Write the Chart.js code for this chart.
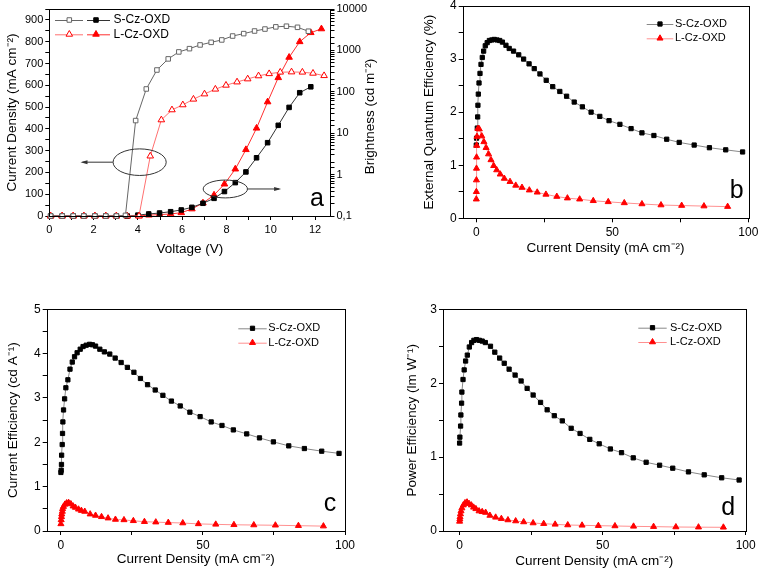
<!DOCTYPE html>
<html>
<head>
<meta charset="utf-8">
<script src="https://cdn.jsdelivr.net/npm/chart.js@4.4.1/dist/chart.umd.min.js"></script>
<style>
  body { margin: 0; background: #fff; width: 759px; height: 570px; position: relative; overflow: hidden; }
  canvas { position: absolute; }
</style>
</head>
<body>
<canvas id="chartA" width="380" height="257" style="left:0;top:0"></canvas>
<canvas id="chartB" width="379" height="257" style="left:380px;top:0"></canvas>
<canvas id="chartC" width="380" height="280" style="left:0;top:290px"></canvas>
<canvas id="chartD" width="379" height="280" style="left:380px;top:290px"></canvas>
<script>
// ---- panel a : J-V-L ----
const voltsSJ = [0.06,0.58,1.08,1.56,2.06,2.55,3.03,3.44,3.90,4.38,4.86,5.37,5.85,6.33,6.81,7.31,7.79,8.28,8.78,9.27,9.74,10.23,10.71,11.21,11.70];
const curSJ   = [0,0,0,0,0,0,0,3,438,583,670,721,753,768,785,797,808,826,837,849,858,868,871,866,848];
const voltsSL = [0.06,0.58,1.08,1.56,2.06,2.55,3.03,3.52,4.0,4.49,4.98,5.48,5.96,6.44,6.94,7.44,7.91,8.40,8.88,9.36,9.86,10.34,10.83,11.31,11.81];
const brightS = [0.1,0.1,0.1,0.1,0.1,0.1,0.1,0.1,0.105,0.112,0.118,0.127,0.14,0.162,0.203,0.267,0.39,0.64,1.16,2.55,5.9,15.5,42,95,132];
const voltsLJ = [0.06,0.58,1.08,1.56,2.06,2.55,3.03,3.52,4.05,4.56,5.06,5.54,6.03,6.51,7.01,7.50,7.98,8.48,8.96,9.45,9.93,10.43,10.94,11.43,11.91,12.41];
const curLJ   = [0,0,0,0,0,0,0,0,0,275,441,487,510,536,560,582,600,615,629,643,653,660,661,660,655,644];
const voltsLL = [0.06,0.58,1.08,1.56,2.06,2.55,3.03,3.52,4.05,4.5,4.98,5.48,5.96,6.44,6.94,7.44,7.91,8.40,8.88,9.36,9.86,10.34,10.83,11.31,11.81,12.29];
const brightL = [0.1,0.1,0.1,0.1,0.1,0.1,0.1,0.1,0.1,0.105,0.108,0.112,0.12,0.148,0.206,0.32,0.59,1.36,4.0,13.2,57,219,680,1620,2680,3310];

// ---- panel b : EQE ----
const cdS_b = [0,0.1,0.37,0.5,0.6,0.74,1.0,1.36,1.73,2.2,2.7,3.3,4.0,4.8,5.7,6.6,7.6,8.6,9.6,10.9,12.1,13.7,15.6,17.4,19.4,21.3,23.4,25.7,28.1,30.7,33.2,36.0,39.0,42.2,45.4,48.8,52.8,56.9,60.9,65.3,70.0,74.6,80.1,85.7,91.7,97.9];
const eqeS  = [1.38,1.51,1.70,1.91,2.13,2.34,2.55,2.73,2.90,3.03,3.15,3.25,3.31,3.35,3.36,3.37,3.36,3.35,3.32,3.26,3.20,3.15,3.08,3.00,2.91,2.82,2.72,2.60,2.48,2.39,2.30,2.19,2.10,2.00,1.92,1.84,1.77,1.69,1.61,1.56,1.49,1.43,1.38,1.33,1.29,1.25];
const cdL_b = [0,0.02,0.04,0.07,0.1,0.15,0.25,0.6,1.1,2.0,2.8,3.6,4.5,5.4,6.4,7.5,8.8,10.3,12.4,14.5,16.8,19.5,22.4,25.6,29.6,33.5,38.0,43.0,48.5,54.4,60.9,67.9,75.5,83.7,92.4];
const eqeL  = [0.36,0.50,0.72,0.94,1.15,1.37,1.54,1.69,1.68,1.55,1.44,1.33,1.21,1.10,0.99,0.91,0.83,0.75,0.69,0.62,0.58,0.53,0.49,0.45,0.41,0.38,0.36,0.33,0.31,0.29,0.27,0.25,0.24,0.23,0.22];

// ---- panel c : current efficiency ----
const cdS_c = [0,0.1,0.2,0.25,0.46,0.57,0.7,0.93,1.3,1.75,2.46,3.2,4.0,4.8,5.7,6.8,7.8,8.9,10.1,11.1,12.2,13.7,15.3,17.2,19.1,21.2,23.4,25.7,28.0,30.5,33.2,35.9,38.9,42.0,45.4,49.0,52.9,56.7,60.7,65.4,69.9,74.8,80.2,85.7,91.8,97.9];
const ceS   = [1.32,1.37,1.50,1.71,1.95,2.20,2.46,2.73,2.98,3.23,3.41,3.65,3.81,3.93,4.02,4.10,4.16,4.19,4.21,4.20,4.17,4.10,4.04,3.99,3.90,3.80,3.69,3.58,3.44,3.30,3.18,3.06,2.93,2.82,2.68,2.58,2.46,2.38,2.28,2.19,2.10,2.01,1.92,1.86,1.80,1.75];
const cdL_c = [0,0.1,0.2,0.3,0.5,0.6,0.9,1.4,2.0,2.7,3.5,4.3,5.1,6.2,7.2,8.4,10.3,12.2,14.3,16.6,19.2,22.2,25.5,29.4,33.4,37.8,42.9,48.4,54.5,60.9,67.9,75.5,83.6,92.4];
const ceL   = [0.16,0.25,0.32,0.38,0.44,0.50,0.55,0.60,0.63,0.64,0.61,0.56,0.53,0.49,0.46,0.44,0.38,0.35,0.32,0.29,0.26,0.25,0.23,0.21,0.20,0.19,0.18,0.16,0.15,0.14,0.135,0.13,0.12,0.11];

// ---- panel d : power efficiency ----
const cdS_d = [0,0.1,0.35,0.45,0.7,0.8,1.2,1.6,2.1,2.7,3.4,4.2,5.0,5.9,6.9,7.9,9.0,10.8,12.3,14.0,15.6,17.3,19.4,21.5,23.6,25.7,28.3,30.6,33.1,35.9,39.0,42.1,45.5,48.8,52.7,56.6,60.7,65.2,69.9,74.5,80.0,85.5,91.6,97.7];
const peS   = [1.19,1.27,1.42,1.57,1.73,1.88,2.05,2.18,2.30,2.38,2.49,2.55,2.58,2.59,2.58,2.57,2.55,2.50,2.42,2.34,2.27,2.19,2.11,2.03,1.93,1.84,1.74,1.64,1.56,1.49,1.39,1.32,1.24,1.18,1.11,1.06,0.99,0.93,0.89,0.85,0.80,0.76,0.72,0.69];
const cdL_d = [0,0.1,0.15,0.3,0.5,0.8,1.3,1.9,2.6,3.3,4.1,4.9,5.7,6.8,7.9,9.1,10.6,12.6,14.6,16.9,19.6,22.4,25.7,29.4,33.4,37.8,42.8,48.5,54.3,60.8,67.8,75.6,83.5,92.2];
const peL   = [0.13,0.16,0.19,0.23,0.27,0.31,0.35,0.38,0.39,0.37,0.35,0.32,0.30,0.27,0.26,0.25,0.21,0.185,0.167,0.149,0.135,0.122,0.108,0.099,0.09,0.081,0.077,0.072,0.068,0.063,0.059,0.054,0.052,0.05];

const FONT = '"Liberation Sans", Arial, Helvetica, sans-serif';
Chart.defaults.font.family = FONT;
Chart.defaults.color = '#000';
Chart.defaults.animation = false;

const RED = '#ff0000';

function pts(xs, ys) {
  return xs.map((x, i) => ({ x: x, y: ys[i] }));
}

function isMult(v, step) {
  return Math.abs(v / step - Math.round(v / step)) < 1e-6;
}

// plain linear axis, Origin look: outward ticks, minor ticks without labels
function linAxis(o) {
  const horiz = o.pos === 'bottom';
  return {
    type: 'linear',
    position: o.pos,
    min: o.min,
    max: o.max,
    border: { display: false },
    grid: { drawOnChartArea: false, drawTicks: true, tickLength: 4, tickColor: '#000', tickWidth: 1 },
    ticks: {
      stepSize: o.step,
      includeBounds: false,
      autoSkip: false,
      maxRotation: 0,
      padding: horiz ? 3 : 2,
      font: { size: o.fs },
      callback: v => (isMult(v, o.major) ? String(Math.round(v)) : '')
    },
    afterBuildTicks: s => { s.ticks = s.ticks.filter(t => isMult(t.value, o.step)); },
    title: {
      display: !!o.title,
      text: o.title,
      font: { size: 13.5 },
      padding: horiz ? { top: 0, bottom: o.tpad } : { top: o.tpad, bottom: 0 }
    },
    afterFit: s => {
      if (horiz) { s.height = o.size; s.paddingLeft = 0; s.paddingRight = 0; }
      else { s.width = o.size; s.paddingTop = 0; s.paddingBottom = 0; }
    }
  };
}

// frame, legend, panel letter, and the extra drawings of panel a
const decor = {
  id: 'decor',
  afterDraw(chart, args, o) {
    const ctx = chart.ctx;
    const a = chart.chartArea;
    ctx.save();
    ctx.strokeStyle = '#000';
    ctx.lineWidth = 1;
    ctx.strokeRect(Math.round(a.left) + 0.5, Math.round(a.top) + 0.5,
      Math.round(a.right - a.left), Math.round(a.bottom - a.top));

    ctx.font = (o.legendSize || 12) + 'px ' + FONT;
    ctx.textBaseline = 'middle';
    ctx.textAlign = 'left';
    (o.legend || []).forEach(row => {
      row.items.forEach(it => {
        ctx.strokeStyle = it.line;
        ctx.lineWidth = 1;
        ctx.beginPath();
        ctx.moveTo(it.x0, row.y + 0.5);
        ctx.lineTo(it.x1, row.y + 0.5);
        ctx.stroke();
        ctx.fillStyle = it.fill;
        ctx.strokeStyle = it.stroke;
        Chart.helpers.drawPoint(ctx, { pointStyle: it.style, radius: it.r, borderWidth: 1, rotation: 0 }, it.mx, row.y);
      });
      ctx.fillStyle = '#000';
      ctx.fillText(row.text, row.tx, row.y);
    });

    if (o.letter) {
      ctx.font = '25px ' + FONT;
      ctx.textAlign = 'center';
      ctx.textBaseline = 'alphabetic';
      ctx.fillStyle = '#000';
      ctx.fillText(o.letter.text, o.letter.x, o.letter.y);
    }

    (o.ellipses || []).forEach(e => {
      const xs = chart.scales.x, ys = chart.scales.y;
      const cx = xs.getPixelForValue(e.x), cy = ys.getPixelForValue(e.y);
      const rx = Math.abs(xs.getPixelForValue(e.x + e.rx) - cx);
      const ry = Math.abs(ys.getPixelForValue(e.y + e.ry) - cy);
      ctx.strokeStyle = '#333';
      ctx.lineWidth = 1;
      ctx.beginPath();
      ctx.ellipse(cx, cy, rx, ry, 0, 0, 2 * Math.PI);
      ctx.stroke();
      const x1 = xs.getPixelForValue(e.from), x2 = xs.getPixelForValue(e.to);
      const dir = Math.sign(x2 - x1);
      ctx.beginPath();
      ctx.moveTo(x1, cy);
      ctx.lineTo(x2, cy);
      ctx.stroke();
      ctx.fillStyle = '#333';
      ctx.beginPath();
      ctx.moveTo(x2 + dir * 2, cy);
      ctx.lineTo(x2 - dir * 5, cy - 2);
      ctx.lineTo(x2 - dir * 5, cy + 2);
      ctx.closePath();
      ctx.fill();
    });

    if (o.rightTitle) {
      ctx.font = '13.5px ' + FONT;
      ctx.fillStyle = '#000';
      ctx.textAlign = 'center';
      ctx.textBaseline = 'middle';
      ctx.translate(o.rightTitle.x, (a.top + a.bottom) / 2 + 4);
      ctx.rotate(-Math.PI / 2);
      ctx.fillText(o.rightTitle.text, 0, 0);
    }
    ctx.restore();
  }
};

function series(xs, ys, opt) {
  return Object.assign({
    data: pts(xs, ys),
    showLine: true,
    tension: 0,
    borderWidth: 1,
    pointBorderWidth: 1,
    clip: false
  }, opt);
}

function legendRows(x0, x1, mx, tx, y1, y2) {
  return [
    { y: y1, tx: tx, text: 'S-Cz-OXD',
      items: [{ x0: x0, x1: x1, mx: mx, line: '#888', style: 'rect', fill: '#000', stroke: '#000', r: 3 }] },
    { y: y2, tx: tx, text: 'L-Cz-OXD',
      items: [{ x0: x0, x1: x1, mx: mx, line: '#ff9090', style: 'triangle', fill: RED, stroke: RED, r: 3.5 }] }
  ];
}

function effChart(id, xsS, ysS, xsL, ysL, cfg) {
  new Chart(document.getElementById(id), {
    type: 'scatter',
    data: {
      datasets: [
        series(xsS, ysS, { order: 1, borderColor: '#888', pointStyle: 'rect', pointRadius: 3,
          pointBackgroundColor: '#000', pointBorderColor: '#000' }),
        series(xsL, ysL, { order: 0, borderColor: '#ff9090', pointStyle: 'triangle', pointRadius: 3.5,
          pointBackgroundColor: RED, pointBorderColor: RED })
      ]
    },
    options: {
      responsive: false,
      layout: { padding: { top: cfg.top, right: cfg.right, left: 0, bottom: 0 } },
      plugins: {
        legend: { display: false },
        tooltip: { enabled: false },
        decor: { legend: cfg.legend, legendSize: 11, letter: cfg.letter }
      },
      scales: {
        x: linAxis({ pos: 'bottom', min: cfg.xmin, max: 100, step: 25, major: 50, fs: 12,
          title: 'Current Density (mA cm\u207B\u00B2)', tpad: cfg.xtpad, size: cfg.xh }),
        y: linAxis({ pos: 'left', min: 0, max: cfg.ymax, step: 0.5, major: 1, fs: 12,
          title: cfg.ytitle, tpad: cfg.ytpad, size: cfg.yw })
      }
    },
    plugins: [decor]
  });
}

// ---- panel a ----
new Chart(document.getElementById('chartA'), {
  type: 'scatter',
  data: {
    datasets: [
      series(voltsSJ, curSJ, { yAxisID: 'y', borderColor: '#666', pointStyle: 'rect', pointRadius: 3.2,
        pointBackgroundColor: '#fff', pointBorderColor: '#666' }),
      series(voltsLJ, curLJ, { yAxisID: 'y', borderColor: '#ff7070', pointStyle: 'triangle', pointRadius: 3.8,
        pointBackgroundColor: '#fff', pointBorderColor: RED }),
      series(voltsSL, brightS, { yAxisID: 'y2', borderColor: '#333', pointStyle: 'rect', pointRadius: 3.2,
        pointBackgroundColor: '#000', pointBorderColor: '#000' }),
      series(voltsLL, brightL, { yAxisID: 'y2', borderColor: '#ff3030', pointStyle: 'triangle', pointRadius: 3.8,
        pointBackgroundColor: RED, pointBorderColor: RED })
    ]
  },
  options: {
    responsive: false,
    layout: { padding: { top: 9, right: 0, left: 0, bottom: 0 } },
    plugins: {
      legend: { display: false },
      tooltip: { enabled: false },
      decor: {
        legendSize: 12,
        legend: [
          { y: 20, tx: 113.5, text: 'S-Cz-OXD', items: [
            { x0: 55, x1: 83, mx: 69.3, line: '#666', style: 'rect', fill: '#fff', stroke: '#666', r: 3.2 },
            { x0: 87, x1: 110, mx: 96, line: '#333', style: 'rect', fill: '#000', stroke: '#000', r: 3.2 }] },
          { y: 34.3, tx: 113.5, text: 'L-Cz-OXD', items: [
            { x0: 55, x1: 83, mx: 69.3, line: '#ff7070', style: 'triangle', fill: '#fff', stroke: RED, r: 3.8 },
            { x0: 87, x1: 110, mx: 96, line: '#ff3030', style: 'triangle', fill: RED, stroke: RED, r: 3.8 }] }
        ],
        letter: { text: 'a', x: 317, y: 206 },
        ellipses: [
          { x: 4.08, y: 247, rx: 1.2, ry: 61, from: 2.87, to: 1.5 },
          { x: 7.95, y: 124, rx: 1.0, ry: 41, from: 8.96, to: 10.38 }
        ],
        rightTitle: { x: 370, text: 'Brightness (cd m\u207B\u00B2)' }
      }
    },
    scales: {
      x: linAxis({ pos: 'bottom', min: 0, max: 12.7, step: 1, major: 2, fs: 11,
        title: 'Voltage (V)', tpad: 0, size: 41 }),
      y: linAxis({ pos: 'left', min: 0, max: 950, step: 50, major: 100, fs: 11,
        title: 'Current Density (mA cm\u207B\u00B2)', tpad: 4, size: 49.3 }),
      y2: {
        type: 'logarithmic',
        position: 'right',
        min: 0.1,
        max: 10000,
        border: { display: false },
        grid: { drawOnChartArea: false, drawTicks: true, tickLength: 4, tickColor: '#000' },
        ticks: {
          autoSkip: false,
          padding: 2,
          font: { size: 11 },
          callback: v => {
            const l = Math.log10(v);
            if (Math.abs(l - Math.round(l)) > 1e-9) return '';
            return v < 1 ? String(v).replace('.', ',') : String(Math.round(v));
          }
        },
        afterFit: s => { s.width = 49.5; s.paddingTop = 0; s.paddingBottom = 0; }
      }
    }
  },
  plugins: [decor]
});

// ---- panels b, c, d ----
effChart('chartB', cdS_b, eqeS, cdL_b, eqeL, {
  top: 6, right: 10.7, xmin: -5, ymax: 4, xh: 38.7, xtpad: 1, yw: 82.7, ytpad: 41.5,
  ytitle: 'External Quantum Efficiency (%)',
  legend: legendRows(266.7, 293.3, 280, 295, 24, 38.3),
  letter: { text: 'b', x: 356.7, y: 198.3 }
});

effChart('chartC', cdS_c, ceS, cdL_c, ceL, {
  top: 19.3, right: 35, xmin: -5, ymax: 5, xh: 39, xtpad: 2.2, yw: 46.7, ytpad: 5.5,
  ytitle: 'Current Efficiency (cd A\u207B\u00B9)',
  legend: legendRows(238.3, 266.7, 252.5, 268.3, 38.3, 52.7),
  letter: { text: 'c', x: 330, y: 221 }
});

effChart('chartD', cdS_d, peS, cdL_d, peL, {
  top: 19.3, right: 13.3, xmin: -5.8, ymax: 3, xh: 39, xtpad: 1, yw: 63, ytpad: 23.9,
  ytitle: 'Power Efficiency (lm W\u207B\u00B9)',
  legend: legendRows(258.3, 286.7, 272.5, 290, 37.7, 52),
  letter: { text: 'd', x: 348.3, y: 225 }
});
</script>
</body>
</html>
